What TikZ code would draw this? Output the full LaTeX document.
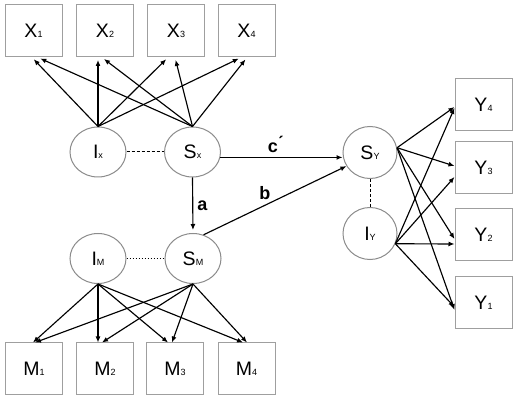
\documentclass[tikz,border=0pt]{standalone}
\usepackage{fontspec}
\setmainfont{Liberation Sans}
\usetikzlibrary{shapes.geometric,arrows.meta}
\newcommand\mysub[1]{{\fontsize{9}{9}\selectfont #1}}
\begin{document}
\begin{tikzpicture}[x=1pt,y=-1pt,
  box/.style={draw=gray!75, line width=1pt, minimum width=57pt, minimum height=52pt, inner sep=0pt, font=\fontsize{19.5}{19.5}\selectfont},
  lat/.style={draw=gray!90, line width=1pt, ellipse, minimum width=56pt, minimum height=50pt, inner sep=0pt, font=\fontsize{19.5}{19.5}\selectfont},
  arr/.style={-{Latex[length=6pt,width=5pt]}, line width=1.15pt},
  xarr/.style={arr, shorten >=2.5pt},
  lbl/.style={font=\fontsize{18}{18}\selectfont\bfseries, inner sep=0pt},
  dsh/.style={line width=1pt, dash pattern=on 3pt off 2pt},
  dtt/.style={line width=1pt, dash pattern=on 1.5pt off 1.5pt}
]
\fill[white] (0,0) rectangle (520,403);
\useasboundingbox (0,0) rectangle (520,403);

% indicator boxes
\node[box] (X1) at (33.5,31) {X\mysub{1}};
\node[box] (X2) at (105,31) {X\mysub{2}};
\node[box] (X3) at (176,31) {X\mysub{3}};
\node[box] (X4) at (246.5,31) {X\mysub{4}};
\node[box] (M1) at (34,369) {M\mysub{1}};
\node[box] (M2) at (105,369) {M\mysub{2}};
\node[box] (M3) at (175,369) {M\mysub{3}};
\node[box] (M4) at (246.5,369) {M\mysub{4}};
\node[box] (Y4) at (483.5,104.5) {Y\mysub{4}};
\node[box] (Y3) at (483.5,167.5) {Y\mysub{3}};
\node[box] (Y2) at (483.5,235) {Y\mysub{2}};
\node[box] (Y1) at (483.5,302.5) {Y\mysub{1}};

% latent variables
\node[lat] (Ix) at (98,152) {I\mysub{x}};
\node[lat] (Sx) at (192.5,152) {S\mysub{x}};
\node[lat] (Im) at (98,258.5) {I\mysub{M}};
\node[lat] (Sm) at (193,258.5) {S\mysub{M}};
\node[lat, minimum width=54pt, minimum height=52pt] (Sy) at (370,152.5) {S\mysub{Y}};
\node[lat, minimum width=54pt, minimum height=52pt] (Iy) at (370,233.5) {I\mysub{Y}};

% X loadings
\draw[xarr] (Ix.north) -- ([xshift=-1.5pt]X1.south);
\draw[xarr] (Ix.north) -- ([xshift=-7pt]X2.south);
\draw[xarr] (Ix.north) -- ([xshift=-8pt]X3.south);
\draw[xarr] (Ix.north) -- ([xshift=-5.5pt]X4.south);
\draw[xarr] (Sx.north) -- ([xshift=4.5pt]X1.south);
\draw[xarr] (Sx.north) -- ([xshift=-3pt]X2.south);
\draw[xarr] (Sx.north) -- ([xshift=-1pt]X3.south);
\draw[xarr] (Sx.north) -- ([xshift=0.5pt]X4.south);

% M loadings
\draw[arr] (Im.south) -- ([xshift=-1pt]M1.north);
\draw[arr] (Im.south) -- ([xshift=-7pt]M2.north);
\draw[arr] (Im.south) -- ([xshift=-7pt]M3.north);
\draw[arr] (Im.south) -- ([xshift=-3.5pt]M4.north);
\draw[arr] (Sm.south) -- ([xshift=1pt]M1.north);
\draw[arr] (Sm.south) -- ([xshift=-3pt]M2.north);
\draw[arr] (Sm.south) -- ([xshift=-3pt]M3.north);
\draw[arr] (Sm.south) -- ([xshift=0.5pt]M4.north);

% Y loadings
\draw[arr] (Sy.10) -- ([yshift=-2.5pt]Y4.west);
\draw[arr] (Sy.10) -- ([yshift=1.5pt]Y3.west);
\draw[arr] (Sy.10) -- ([yshift=-4pt]Y2.west);
\draw[arr] (Sy.10) -- ([yshift=-7.5pt]Y1.west);
\draw[arr] (Iy.-22) -- ([yshift=-3.5pt]Y4.west);
\draw[arr] (Iy.-22) -- ([yshift=-9.5pt]Y3.west);
\draw[arr] (Iy.-22) -- ([yshift=-9pt]Y2.west);
\draw[arr] (Iy.-22) -- ([yshift=-4.5pt]Y1.west);

% covariances
\draw[dsh] (Ix.east) -- (Sx.west);
\draw[dtt] (Im.east) -- (Sm.west);
\draw[dsh] (Sy.south) -- (Iy.north);

% structural paths
\draw[arr] (Sx.-11) -- (Sx.-11 -| Sy.west) node[lbl, pos=0.45, above=4pt] {c\'{}};
\draw[arr, shorten >=3pt] (Sx.south) -- (Sm.north) node[lbl, midway, right=4pt] {a};
\draw[arr] (Sm.66) -- (Sy.210) node[lbl, pos=0.43, above=5pt] {b};
\end{tikzpicture}
\end{document}
